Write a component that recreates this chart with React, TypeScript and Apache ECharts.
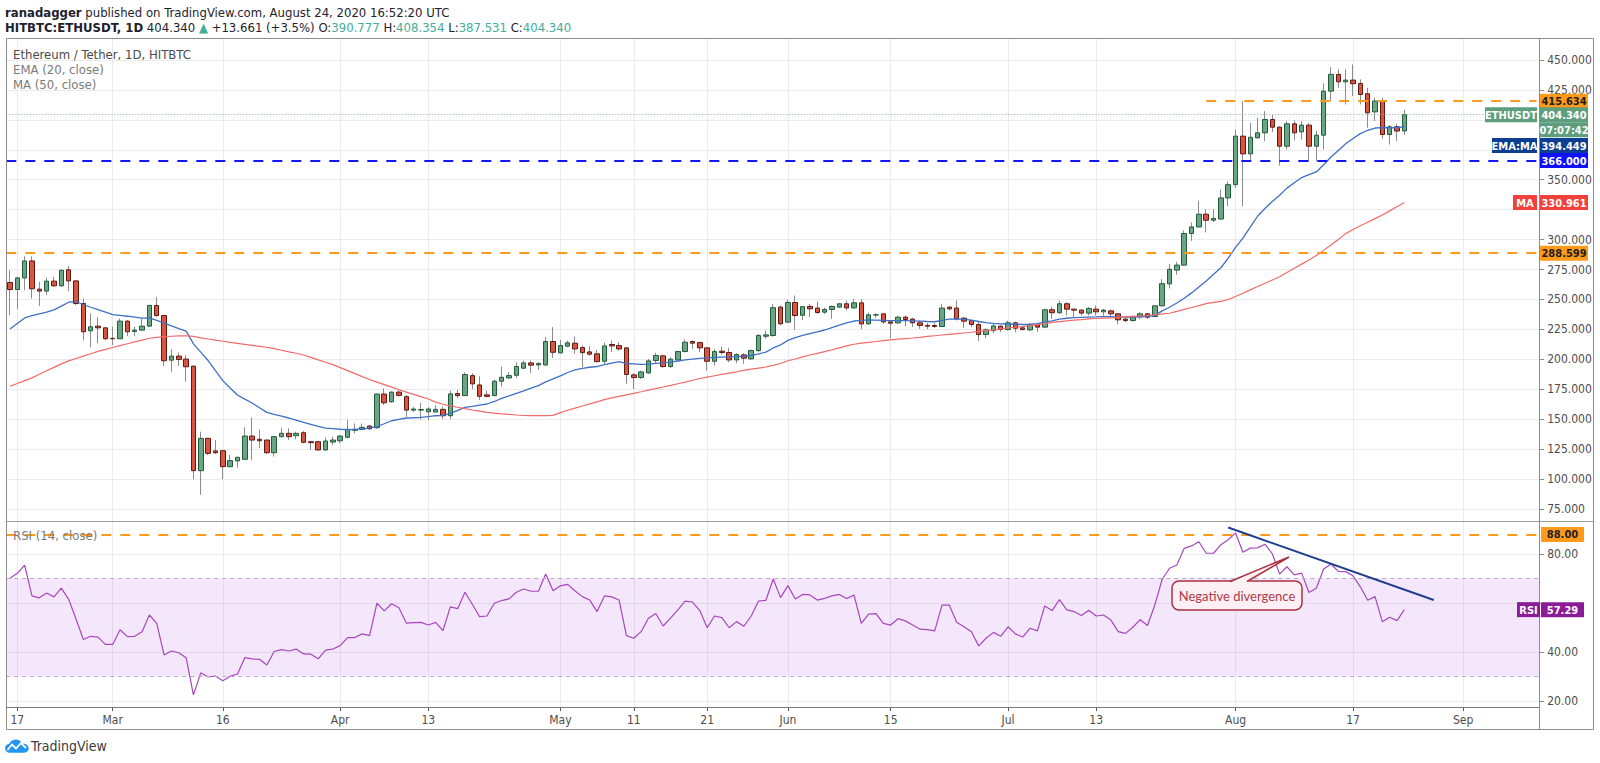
import React, { useEffect, useRef } from 'react';
import * as echarts from 'echarts';

// ---------------- data ----------------
const START_DATE = '2020-02-16';
const AXIS_DAYS = 209; // categories on the time axis (Feb 16 .. Sep 11)

const OPEN = [
  264.2, 258.3, 268.0, 282.2, 258.6, 257.0, 265.3, 261.4, 274.8, 265.5,
  246.6, 223.8, 227.7, 226.3, 217.5, 217.2, 231.9, 223.3, 224.4, 227.7,
  245.0, 236.6, 199.3, 202.7, 200.2, 194.3, 107.0, 134.0, 123.5, 123.7,
  110.4, 115.2, 116.5, 135.9, 133.2, 132.6, 122.0, 135.4, 138.2, 136.2,
  138.7, 131.2, 131.2, 124.3, 130.9, 132.0, 134.9, 140.7, 141.5, 144.3,
  142.9, 171.0, 164.6, 172.6, 168.8, 157.6, 157.6, 156.2, 156.0, 158.2,
  152.9, 171.4, 169.7, 186.4, 178.6, 170.3, 169.7, 181.7, 184.5, 186.7,
  192.6, 197.0, 195.3, 195.3, 214.9, 205.4, 211.0, 213.5, 209.8, 206.2,
  204.6, 198.4, 212.4, 211.5, 209.6, 187.0, 184.8, 188.7, 199.0, 202.9,
  194.0, 199.5, 206.5, 214.9, 214.0, 209.6, 198.4, 206.8, 205.7, 199.5,
  203.7, 200.4, 207.3, 219.3, 219.9, 243.6, 231.1, 247.5, 236.8, 244.2,
  242.8, 239.4, 241.6, 243.6, 246.4, 243.0, 247.2, 229.6, 237.0, 238.0,
  231.3, 230.5, 235.2, 233.6, 230.5, 228.3, 228.3, 227.4, 243.6, 242.8,
  234.4, 232.4, 229.1, 220.7, 224.0, 227.7, 224.9, 230.5, 226.3, 224.6,
  228.8, 226.9, 241.4, 238.9, 246.4, 241.9, 241.1, 238.6, 241.9, 239.7,
  240.5, 238.0, 233.6, 232.4, 235.5, 238.0, 235.8, 244.7, 263.0, 274.5,
  278.7, 305.1, 310.6, 321.2, 316.2, 317.2, 334.8, 345.9, 386.4, 371.6,
  385.0, 389.2, 400.3, 393.9, 378.0, 396.7, 390.0, 395.6, 378.0, 387.2,
  424.0, 438.0, 431.8, 433.2, 430.4, 421.8, 406.7, 415.7, 387.8, 394.2,
  390.777,
];
const CLOSE = [
  258.3, 268.0, 282.2, 258.9, 257.0, 265.3, 261.4, 274.4, 265.5, 246.6,
  223.0, 227.2, 226.3, 217.2, 217.2, 231.9, 223.0, 224.4, 227.7, 245.0,
  236.6, 198.8, 202.7, 199.9, 193.8, 107.0, 134.0, 121.5, 122.0, 110.4,
  115.4, 118.2, 135.9, 132.6, 132.0, 122.0, 135.4, 138.2, 135.4, 138.2,
  130.7, 130.4, 124.3, 131.8, 132.6, 135.9, 141.5, 141.5, 143.2, 142.0,
  171.0, 163.7, 172.6, 169.9, 157.6, 158.5, 158.1, 158.5, 158.2, 152.9,
  171.1, 169.7, 187.3, 179.5, 169.1, 169.1, 181.7, 185.0, 186.4, 194.0,
  197.0, 195.1, 196.5, 214.9, 205.9, 211.5, 213.8, 208.7, 205.6, 204.3,
  198.1, 211.2, 211.2, 208.7, 187.3, 184.8, 189.5, 198.7, 203.2, 194.0,
  200.1, 206.5, 214.3, 213.5, 209.6, 198.4, 206.5, 205.7, 199.5, 204.0,
  201.0, 207.3, 219.9, 220.4, 243.1, 229.7, 247.5, 236.6, 244.0, 242.2,
  239.1, 241.6, 244.2, 246.4, 243.0, 247.2, 229.6, 237.2, 237.2, 231.3,
  230.2, 235.2, 233.3, 230.5, 228.3, 227.7, 227.4, 242.8, 242.2, 233.8,
  231.9, 229.1, 220.7, 224.6, 227.9, 224.9, 230.5, 226.0, 224.9, 228.8,
  226.9, 241.4, 238.9, 246.4, 241.9, 241.1, 238.6, 242.5, 239.7, 241.1,
  238.0, 233.0, 232.4, 235.8, 238.0, 235.2, 244.7, 263.2, 275.2, 278.7,
  305.1, 310.6, 321.2, 316.2, 317.7, 334.8, 345.9, 386.4, 371.6, 385.5,
  389.2, 400.3, 393.9, 378.0, 396.7, 389.2, 395.6, 378.0, 387.2, 424.0,
  438.0, 431.8, 433.2, 430.2, 421.2, 405.9, 415.7, 387.8, 394.2, 390.68,
  404.34,
];
const LOW = [
  236.9, 241.9, 257.8, 250.8, 244.4, 253.9, 260.5, 260.5, 256.9, 245.2,
  216.0, 209.9, 213.3, 216.0, 211.9, 217.0, 219.4, 219.4, 224.0, 227.2,
  235.5, 194.4, 189.6, 194.6, 181.3, 99.8, 86.8, 120.0, 120.9, 99.8,
  109.8, 109.6, 116.0, 116.0, 125.7, 120.9, 118.7, 134.9, 132.6, 133.2,
  129.8, 124.3, 123.7, 123.7, 128.4, 129.8, 134.0, 138.2, 140.9, 140.9,
  142.0, 161.8, 163.7, 168.8, 152.0, 156.3, 149.8, 149.0, 155.9, 150.2,
  150.2, 167.8, 169.7, 175.0, 166.1, 168.3, 169.1, 177.2, 183.6, 184.5,
  192.0, 188.4, 191.2, 194.8, 201.2, 205.0, 210.1, 204.6, 193.4, 203.2,
  197.3, 195.6, 206.0, 207.3, 179.5, 175.3, 183.6, 187.8, 196.2, 192.8,
  192.8, 199.0, 205.9, 208.7, 205.9, 190.6, 194.8, 204.0, 197.6, 196.8,
  196.2, 199.5, 206.0, 217.1, 219.0, 228.3, 230.2, 224.6, 232.8, 235.2,
  238.0, 238.0, 233.8, 243.0, 240.8, 242.2, 225.2, 229.1, 234.7, 229.6,
  217.6, 229.6, 227.4, 226.9, 225.5, 225.2, 226.3, 226.9, 240.8, 232.4,
  226.3, 226.9, 215.2, 217.6, 221.8, 222.7, 224.1, 222.7, 224.1, 223.5,
  222.7, 226.3, 233.8, 238.0, 236.6, 234.7, 236.6, 236.6, 236.6, 236.3,
  235.8, 229.1, 231.0, 231.6, 233.8, 233.8, 235.2, 244.2, 259.2, 270.7,
  278.0, 299.0, 310.1, 306.0, 314.7, 316.7, 327.8, 343.2, 327.8, 365.5,
  384.4, 382.2, 389.7, 361.8, 375.2, 382.8, 383.6, 364.9, 365.5, 375.2,
  415.7, 426.8, 412.9, 419.9, 412.9, 393.4, 398.9, 384.4, 379.4, 382.2,
  387.531,
];
const HIGH = [
  274.4, 268.8, 286.1, 286.1, 264.7, 268.3, 268.9, 275.0, 277.8, 266.0,
  250.8, 238.3, 235.0, 226.8, 227.2, 234.1, 232.7, 227.2, 234.1, 245.5,
  252.2, 237.0, 208.5, 205.7, 203.5, 195.0, 139.6, 134.5, 132.6, 123.9,
  120.1, 118.5, 143.2, 151.5, 141.5, 132.9, 135.8, 142.9, 142.4, 139.6,
  140.1, 132.0, 131.5, 134.6, 135.4, 136.8, 149.3, 146.5, 146.5, 145.1,
  171.5, 175.7, 173.2, 174.3, 170.2, 160.4, 163.7, 160.0, 161.8, 160.5,
  173.9, 174.4, 189.2, 188.4, 185.9, 173.9, 183.1, 194.0, 189.2, 197.6,
  199.0, 199.0, 197.6, 218.5, 226.9, 216.3, 215.7, 219.1, 211.5, 211.0,
  207.9, 214.0, 215.7, 214.3, 209.9, 188.4, 190.6, 200.4, 205.4, 204.0,
  201.8, 207.3, 216.6, 215.7, 214.9, 209.9, 208.7, 210.7, 209.6, 205.1,
  205.1, 208.2, 221.3, 224.1, 246.4, 245.0, 249.7, 253.3, 244.5, 246.4,
  248.3, 243.0, 245.0, 246.9, 249.2, 250.3, 250.3, 239.1, 238.6, 238.3,
  231.9, 236.3, 236.6, 234.7, 232.4, 230.5, 230.2, 246.4, 244.1, 249.2,
  235.2, 233.0, 231.0, 226.0, 229.6, 228.5, 232.4, 231.6, 227.4, 230.2,
  229.6, 242.2, 244.1, 249.2, 247.8, 242.2, 241.9, 243.6, 245.0, 242.2,
  241.4, 238.6, 234.7, 236.6, 239.4, 238.6, 244.9, 267.0, 279.7, 281.5,
  307.6, 314.3, 332.4, 325.4, 325.4, 341.8, 348.7, 391.9, 415.7, 397.5,
  401.7, 407.3, 404.0, 394.7, 398.9, 399.5, 398.9, 397.5, 391.1, 430.5,
  444.1, 442.2, 442.2, 446.3, 433.8, 426.8, 418.5, 418.5, 395.6, 396.7,
  408.354,
];
const EMA20 = [
  225.4, 230.0, 234.6, 236.5, 238.0, 239.5, 241.3, 244.5, 247.7, 248.3,
  245.8, 243.5, 241.6, 239.5, 237.4, 236.7, 236.0, 235.2, 234.4, 234.6,
  232.5, 230.2, 228.0, 225.7, 223.5, 212.9, 206.0, 199.0, 190.5, 182.2,
  176.0, 170.2, 166.8, 163.5, 159.6, 155.7, 154.0, 152.5, 151.0, 149.2,
  147.3, 145.7, 144.1, 142.6, 142.1, 141.6, 141.2, 141.5, 141.8, 142.7,
  143.7, 146.2, 148.7, 149.9, 151.0, 151.2, 151.5, 152.2, 152.9, 153.2,
  154.9, 157.3, 159.9, 160.8, 161.8, 162.7, 164.8, 167.4, 169.4, 171.6,
  173.6, 176.0, 178.1, 181.2, 183.6, 186.2, 189.0, 191.1, 192.5, 193.4,
  194.0, 195.5, 196.8, 198.0, 196.5, 196.2, 195.8, 196.0, 196.7, 197.1,
  197.7, 198.6, 199.6, 200.2, 200.8, 201.2, 201.6, 201.9, 202.1, 202.3,
  202.6, 203.2, 204.5, 206.0, 209.5, 212.0, 215.8, 218.2, 220.0, 221.5,
  223.0, 224.5, 226.5, 228.5, 230.5, 232.0, 232.6, 233.0, 232.8, 232.6,
  232.4, 232.4, 232.4, 232.2, 231.9, 231.6, 231.4, 232.5, 233.6, 233.7,
  233.6, 232.8, 231.6, 230.7, 230.1, 229.6, 229.5, 229.3, 229.1, 229.3,
  229.8, 231.2, 232.2, 233.5, 234.3, 234.8, 235.0, 235.2, 235.4, 235.7,
  235.6, 235.3, 235.2, 235.3, 235.5, 235.7, 236.6, 240.5, 243.5, 247.0,
  251.0, 255.5, 260.5, 265.5, 271.0, 276.5, 284.5, 293.5, 301.3, 310.5,
  319.5, 326.0, 331.8, 337.0, 343.0, 347.5, 351.8, 354.3, 356.5, 362.5,
  369.0, 374.5, 380.0, 384.5, 388.5, 391.3, 393.2, 393.6, 393.4, 393.4,
  394.449,
];
const MA50 = [
  177.5, 179.8, 182.2, 184.5, 187.5, 190.4, 193.3, 196.2, 198.7, 200.7,
  202.7, 204.7, 206.7, 208.3, 209.9, 211.5, 213.0, 214.6, 216.1, 217.6,
  218.3, 219.0, 219.3, 219.6, 219.7, 219.2, 217.9, 217.0, 216.0, 215.1,
  214.1, 213.3, 212.5, 211.7, 210.9, 210.1, 208.9, 207.6, 206.3, 205.1,
  203.6, 201.6, 199.6, 197.6, 195.6, 193.1, 190.6, 188.1, 185.6, 183.2,
  181.0, 178.9, 176.8, 174.6, 172.6, 170.7, 168.8, 166.9, 164.3, 162.5,
  161.2, 160.0, 158.8, 157.7, 156.7, 155.7, 155.1, 154.5, 154.0, 153.5,
  153.1, 153.0, 153.0, 153.0, 153.2, 155.5, 157.5, 159.3, 161.0, 162.8,
  164.5, 166.4, 167.8, 169.0, 170.3, 171.6, 172.9, 174.3, 175.6, 176.9,
  178.2, 179.6, 181.0, 182.5, 184.0, 185.2, 186.3, 187.4, 188.5, 189.6,
  190.8, 191.8, 192.7, 193.6, 195.0, 196.5, 198.8, 200.3, 202.0, 203.6,
  205.0, 206.5, 208.0, 209.6, 211.2, 212.6, 213.5, 214.2, 214.9, 215.7,
  216.3, 216.8, 217.3, 217.8, 218.4, 219.1, 219.7, 220.3, 220.9, 221.4,
  222.0, 222.6, 223.3, 224.0, 224.6, 225.5, 226.2, 226.8, 227.4, 228.2,
  229.0, 229.8, 230.8, 231.5, 232.1, 232.7, 233.2, 233.8, 234.1, 234.4,
  234.7, 235.0, 235.4, 235.8, 236.2, 236.6, 237.2, 237.9, 238.5, 240.0,
  241.7, 243.3, 244.8, 246.5, 247.5, 248.4, 250.0, 252.5, 255.2, 258.0,
  260.8, 263.5, 266.2, 269.0, 272.5, 276.0, 279.5, 283.0, 286.8, 291.0,
  295.5, 300.0, 305.0, 308.5, 311.5, 314.5, 317.5, 320.5, 324.0, 327.5,
  330.961,
];
const RSI14 = [
  70.1, 72.1, 75.5, 62.9, 62.1, 64.1, 62.5, 66.1, 61.5, 53.5,
  45.1, 46.4, 46.1, 43.1, 43.1, 49.1, 46.3, 46.4, 48.3, 55.1,
  51.7, 38.8, 40.4, 39.7, 37.7, 22.5, 31.5, 29.8, 30.2, 28.3,
  30.1, 31.0, 37.7, 37.2, 37.0, 34.7, 40.2, 41.0, 40.4, 41.2,
  39.2, 39.1, 37.2, 40.8, 41.2, 42.6, 45.9, 45.9, 47.4, 46.7,
  59.9, 56.8, 59.7, 58.1, 51.8, 52.0, 52.1, 51.0, 52.1, 48.7,
  58.4, 57.7, 64.4, 59.5, 54.4, 54.7, 59.9, 61.0, 61.7, 64.4,
  65.7, 64.8, 64.8, 71.8, 65.0, 67.0, 67.6, 64.9, 62.6, 61.2,
  56.5, 62.9, 62.5, 61.2, 46.7, 45.6, 48.3, 53.8, 55.7, 50.6,
  53.8, 57.2, 60.8, 60.4, 56.9, 49.9, 54.7, 54.0, 49.9, 52.4,
  50.5, 54.7, 60.8, 61.1, 69.8, 62.2, 67.1, 61.6, 63.5, 63.3,
  61.2, 61.9, 62.9, 63.5, 61.8, 63.3, 51.7, 55.5, 55.7, 51.7,
  51.0, 53.6, 52.7, 51.0, 49.3, 49.1, 48.6, 59.1, 59.1, 52.1,
  50.3, 48.3, 42.5, 45.6, 48.0, 46.4, 50.3, 47.4, 46.1, 49.7,
  48.6, 58.8, 56.9, 61.4, 57.2, 56.5, 54.9, 57.0, 54.7, 55.1,
  53.1, 48.3, 47.6, 50.1, 53.2, 50.8, 59.2, 69.7, 74.2, 75.5,
  82.3, 83.3, 85.0, 80.3, 80.3, 83.8, 85.8, 88.6, 80.7, 82.4,
  82.5, 84.0, 80.1, 71.8, 74.8, 71.5, 72.2, 64.3, 66.0, 73.9,
  75.9, 72.9, 72.8, 71.1, 66.6, 61.1, 62.6, 52.3, 54.2, 52.8,
  57.29,
];

const TIME_TICK_DATES = [
  '2020-02-17', '2020-03-01', '2020-03-16', '2020-04-01', '2020-04-13',
  '2020-05-01', '2020-05-11', '2020-05-21', '2020-06-01', '2020-06-15',
  '2020-07-01', '2020-07-13', '2020-08-01', '2020-08-17', '2020-09-01',
];
const TIME_TICK_LABELS = ['17', 'Mar', '16', 'Apr', '13', 'May', '11', '21', 'Jun', '15', 'Jul', '13', 'Aug', '17', 'Sep'];

const PRICE_MIN = 75;
const PRICE_MAX = 450;
const PRICE_STEP = 25;
const PRICE_LABELS_UNDER_TAGS = [400, 375, 325];
const RSI_MIN = 20;
const RSI_MAX = 100;
const RSI_STEP = 20;
const RSI_LABELS_UNDER_TAGS = [60, 100];

const RESISTANCE_LEVEL = 415.634;
const RESISTANCE_START = '2020-07-28';
const SUPPORT_LEVEL = 366.0;
const LOWER_LEVEL = 288.599;
const RSI_HIGH_LEVEL = 88;
const RSI_BAND = [30, 70];
const TREND_START = ['2020-07-31', 90.8];
const TREND_END = ['2020-08-28', 61.2];

const LAST_CLOSE = 404.34;
const LAST_EMA = 394.449;
const LAST_MA = 330.961;
const LAST_RSI = 57.29;

// ---------------- presentation ----------------
const NARROW = "'Liberation Sans Narrow', 'Arial Narrow', 'DejaVu Sans Condensed', 'Roboto Condensed', Roboto, sans-serif";
const STEP = 7.339;
const X0 = 9.96;
const GRID_LEFT = X0 - STEP / 2;
const GRID_WIDTH = STEP * AXIS_DAYS;
const GRID_LINE = '#ebebeb';
const ORANGE = '#ff9a1a';

const LOGO_PATH =
  'M5 14 C2.2 14 0 11.8 0 9.2 C0 6.8 1.8 4.8 4.2 4.5 C5.2 1.9 7.7 0 10.6 0 C13.6 0 16.1 2 16.9 4.8 C17.3 4.7 17.7 4.6 18.2 4.6 C21 4.6 23.2 6.8 23.2 9.6 C23.2 12 21.3 14 18.9 14 Z';

function buildDates(start: string, n: number): string[] {
  const base = Date.parse(start + 'T00:00:00Z');
  const out: string[] = [];
  for (let i = 0; i < n; i++) out.push(new Date(base + i * 86400000).toISOString().slice(0, 10));
  return out;
}

function buildOption() {
  const dates = buildDates(START_DATE, AXIS_DAYS);
  const tickSet = new Set(TIME_TICK_DATES);
  const tickLabel: Record<string, string> = {};
  TIME_TICK_DATES.forEach((d, i) => (tickLabel[d] = TIME_TICK_LABELS[i]));
  const isTick = (_i: number, v: string) => tickSet.has(v);

  const wickData = OPEN.map((o, i) => [o, CLOSE[i], LOW[i], HIGH[i]]);
  const bodyData = OPEN.map((o, i) => [o, CLOSE[i], Math.min(o, CLOSE[i]), Math.max(o, CLOSE[i])]);
  const dash = { type: [10, 9] as any, width: 2 };

  return {
    animation: false,
    backgroundColor: '#ffffff',
    grid: [
      { left: X0, top: 38, width: STEP * (AXIS_DAYS - 1), height: 669 },
      { left: GRID_LEFT, top: 60, width: GRID_WIDTH, height: 449 },
      { left: GRID_LEFT, top: 505, width: GRID_WIDTH, height: 196 },
    ],
    xAxis: [
      {
        gridIndex: 0,
        type: 'category',
        data: dates,
        boundaryGap: false,
        axisLine: { show: false },
        axisTick: { show: true, interval: isTick, length: 4, lineStyle: { color: '#555' } },
        axisLabel: {
          interval: isTick,
          formatter: (v: string) => tickLabel[v] || '',
          color: '#4d4d4d',
          fontSize: 12,
          fontFamily: NARROW,
          margin: 7,
        },
        splitLine: { show: true, interval: isTick, lineStyle: { color: GRID_LINE, width: 1 } },
      },
      { gridIndex: 1, type: 'category', data: dates, boundaryGap: true, show: false },
      { gridIndex: 2, type: 'category', data: dates, boundaryGap: true, show: false },
    ],
    yAxis: [
      { gridIndex: 0, type: 'value', show: false },
      {
        gridIndex: 1,
        type: 'value',
        position: 'right',
        min: PRICE_MIN,
        max: PRICE_MAX,
        interval: PRICE_STEP,
        axisLine: { show: false },
        axisTick: { show: true, length: 4, lineStyle: { color: '#8a8a8a' } },
        axisLabel: {
          formatter: (v: number) => (PRICE_LABELS_UNDER_TAGS.indexOf(v) >= 0 ? '' : v.toFixed(3)),
          color: '#4d4d4d',
          fontSize: 12,
          fontFamily: NARROW,
          margin: 7,
        },
        splitLine: { show: true, lineStyle: { color: GRID_LINE, width: 1 } },
      },
      {
        gridIndex: 2,
        type: 'value',
        position: 'right',
        min: RSI_MIN,
        max: RSI_MAX,
        interval: RSI_STEP,
        axisLine: { show: false },
        axisTick: { show: true, length: 4, lineStyle: { color: '#8a8a8a' } },
        axisLabel: {
          formatter: (v: number) => (RSI_LABELS_UNDER_TAGS.indexOf(v) >= 0 ? '' : v.toFixed(2)),
          showMaxLabel: false,
          color: '#4d4d4d',
          fontSize: 12,
          fontFamily: NARROW,
          margin: 7,
        },
        splitLine: { show: true, showMaxLine: false, lineStyle: { color: GRID_LINE, width: 1 } },
      },
    ],
    series: [
      {
        type: 'candlestick',
        name: 'wick',
        xAxisIndex: 1,
        yAxisIndex: 1,
        data: wickData,
        barWidth: 1,
        silent: true,
        z: 2,
        itemStyle: { color: '#8c8c8c', color0: '#8c8c8c', borderColor: '#8c8c8c', borderColor0: '#8c8c8c', borderWidth: 1 },
      },
      {
        type: 'candlestick',
        name: 'ETHUSDT',
        xAxisIndex: 1,
        yAxisIndex: 1,
        data: bodyData,
        barWidth: 5,
        silent: true,
        z: 3,
        itemStyle: {
          color: '#6aa584',
          color0: '#d9553f',
          borderColor: '#225c3b',
          borderColor0: '#5e1a12',
          borderColorDoji: '#225c3b',
          borderWidth: 1,
        },
        markLine: {
          silent: true,
          symbol: ['none', 'none'],
          label: { show: false },
          data: [
            { yAxis: LOWER_LEVEL, lineStyle: { color: ORANGE, ...dash } },
            { yAxis: SUPPORT_LEVEL, lineStyle: { color: '#1414ff', ...dash } },
            { yAxis: LAST_CLOSE, lineStyle: { color: '#7fae95', width: 1, type: [1, 2] } },
            [
              { coord: [RESISTANCE_START, RESISTANCE_LEVEL], lineStyle: { color: ORANGE, ...dash } },
              { coord: [dates[AXIS_DAYS - 1], RESISTANCE_LEVEL] },
            ],
          ],
        },
      },
      {
        type: 'line',
        name: 'EMA',
        xAxisIndex: 1,
        yAxisIndex: 1,
        data: EMA20,
        symbol: 'none',
        silent: true,
        z: 4,
        lineStyle: { color: '#3e70c6', width: 1.3 },
      },
      {
        type: 'line',
        name: 'MA',
        xAxisIndex: 1,
        yAxisIndex: 1,
        data: MA50,
        symbol: 'none',
        silent: true,
        z: 4,
        lineStyle: { color: '#f26a6a', width: 1.2 },
      },
      {
        type: 'line',
        name: 'RSI',
        xAxisIndex: 2,
        yAxisIndex: 2,
        data: RSI14,
        symbol: 'none',
        silent: true,
        z: 4,
        lineStyle: { color: '#a847bd', width: 1.2 },
        markArea: {
          silent: true,
          itemStyle: { color: 'rgba(186, 104, 230, 0.16)' },
          data: [[{ yAxis: RSI_BAND[0] }, { yAxis: RSI_BAND[1] }]],
        },
        markLine: {
          silent: true,
          symbol: ['none', 'none'],
          label: { show: false },
          data: [
            { yAxis: RSI_BAND[1], lineStyle: { color: '#bba9c4', width: 1, type: [4, 4] } },
            { yAxis: RSI_BAND[0], lineStyle: { color: '#bba9c4', width: 1, type: [4, 4] } },
            { yAxis: RSI_HIGH_LEVEL, lineStyle: { color: ORANGE, ...dash } },
            [
              { coord: TREND_START, lineStyle: { color: '#1d3f8e', width: 2, type: 'solid' } },
              { coord: TREND_END },
            ],
          ],
        },
      },
    ],
  };
}

function buildGraphics(chart: any) {
  const py = (v: number) => chart.convertToPixel({ yAxisIndex: 1 }, v) as number;
  const ry = (v: number) => chart.convertToPixel({ yAxisIndex: 2 }, v) as number;
  const g: any[] = [];
  const seg = (x1: number, y1: number, x2: number, y2: number, color: string) => ({
    type: 'line',
    silent: true,
    z: 95,
    shape: { x1, y1, x2, y2 },
    style: { stroke: color, lineWidth: 1 },
  });
  const text = (x: number, y: number, t: string, o: any = {}) => ({
    type: 'text',
    silent: true,
    z: o.z || 100,
    x,
    y,
    style: {
      text: t,
      fill: o.color || '#4a4a4a',
      fontSize: o.size || 13,
      fontFamily: o.font || NARROW,
      fontWeight: o.weight || 'normal',
      align: o.align || 'left',
      verticalAlign: 'middle',
      rich: o.rich,
    },
  });
  const tag = (x: number, yc: number, w: number, t: string, bg: string, fg: string) => {
    g.push({ type: 'rect', silent: true, z: 110, shape: { x, y: yc - 7.5, width: w, height: 15 }, style: { fill: bg } });
    g.push(text(x + w / 2, yc + 0.5, t, { color: fg, size: 11, weight: 'bold', align: 'center', z: 111 }));
  };

  // frame
  g.push({ type: 'rect', silent: true, z: 95, shape: { x: 6.5, y: 38.5, width: 1587, height: 691 }, style: { fill: 'none', stroke: '#8c8c8c', lineWidth: 1 } });
  g.push(seg(6.5, 521.5, 1593.5, 521.5, '#9c9c9c'));
  g.push(seg(1539.5, 38.5, 1539.5, 729.5, '#8c8c8c'));
  g.push(seg(6.5, 707.5, 1539.5, 707.5, '#7a7a7a'));

  // header
  g.push(
    text(5, 12, '{b|ranadagger} {n|published on TradingView.com, August 24, 2020 16:52:20 UTC}', {
      rich: {
        b: { fontWeight: 'bold', fill: '#1e222d', fontSize: 13, fontFamily: NARROW },
        n: { fill: '#1e222d', fontSize: 13, fontFamily: NARROW },
      },
    })
  );
  g.push(
    text(
      5,
      27,
      '{b|HITBTC:ETHUSDT, 1D} {n|404.340} {g|▲} {n|+13.661 (+3.5%) O:}{g|390.777} {n|H:}{g|408.354} {n|L:}{g|387.531} {n|C:}{g|404.340}',
      {
        rich: {
          b: { fontWeight: 'bold', fill: '#1e222d', fontSize: 13, fontFamily: NARROW },
          n: { fill: '#1e222d', fontSize: 13, fontFamily: NARROW },
          g: { fill: '#3fae9c', fontSize: 13, fontFamily: NARROW },
        },
      }
    )
  );

  // pane legends
  g.push(text(13, 54, 'Ethereum / Tether, 1D, HITBTC', { color: '#4a4a4a', size: 13 }));
  g.push(text(13, 69, 'EMA (20, close)', { color: '#7a7a7a', size: 13 }));
  g.push(text(13, 84, 'MA (50, close)', { color: '#7a7a7a', size: 13 }));
  g.push(text(13, 535, 'RSI (14, close)', { color: '#7a7a7a', size: 13 }));

  // price scale tags
  const VX = 1540;
  const VW = 48;
  tag(VX, py(RESISTANCE_LEVEL), VW, RESISTANCE_LEVEL.toFixed(3), ORANGE, '#1e1e1e');
  const yClose = py(LAST_CLOSE);
  tag(1485, yClose, 52, 'ETHUSDT', '#5e9e7c', '#ffffff');
  tag(VX, yClose, VW, LAST_CLOSE.toFixed(3), '#5e9e7c', '#ffffff');
  tag(VX, yClose + 15, VW, '07:07:42', '#5e9e7c', '#ffffff');
  const ySupport = py(SUPPORT_LEVEL);
  tag(1492, ySupport - 15, 45, 'EMA:MA', '#0e3e91', '#ffffff');
  tag(VX, ySupport - 15, VW, LAST_EMA.toFixed(3), '#0e3e91', '#ffffff');
  tag(VX, ySupport, VW, SUPPORT_LEVEL.toFixed(3), '#1010ff', '#ffffff');
  const yMa = py(LAST_MA);
  tag(1513, yMa, 24, 'MA', '#f2403a', '#ffffff');
  tag(VX, yMa, VW, LAST_MA.toFixed(3), '#f2403a', '#ffffff');
  tag(VX, py(LOWER_LEVEL), VW, LOWER_LEVEL.toFixed(3), ORANGE, '#1e1e1e');

  // RSI tags
  tag(VX + 1, ry(RSI_HIGH_LEVEL), 43, RSI_HIGH_LEVEL.toFixed(2), ORANGE, '#1e1e1e');
  const yRsi = ry(LAST_RSI);
  tag(1517, yRsi, 23, 'RSI', '#8c1b99', '#ffffff');
  tag(VX + 1, yRsi, 43, LAST_RSI.toFixed(2), '#8c1b99', '#ffffff');

  // callout "Negative divergence"
  const pink = '#fcf0f5';
  const maroon = '#a8323f';
  g.push({ type: 'rect', silent: true, z: 120, shape: { x: 1172, y: 581, width: 130, height: 29, r: 7 }, style: { fill: pink, stroke: maroon, lineWidth: 1.5 } });
  g.push({ type: 'polygon', silent: true, z: 121, shape: { points: [[1230, 582.5], [1289, 557], [1247, 582.5]] }, style: { fill: pink } });
  g.push({ type: 'polyline', silent: true, z: 122, shape: { points: [[1230, 581.5], [1289, 557], [1247, 581.5]] }, style: { fill: 'none', stroke: maroon, lineWidth: 1.5 } });
  g.push(text(1237, 596, 'Negative divergence', { color: '#b03a4a', size: 13, font: "Lato, 'Open Sans', sans-serif", align: 'center', z: 123 }));

  // TradingView logo
  g.push({ type: 'tvlogo', silent: true, z: 100, x: 5, y: 739.5, scaleX: 1.02, scaleY: 0.95, style: { fill: '#2196f3' } });
  g.push({ type: 'polyline', silent: true, z: 101, shape: { points: [[7.5, 750], [12, 744.5], [16, 748.5], [21, 743], [26, 748]] }, style: { fill: 'none', stroke: '#ffffff', lineWidth: 1.8 } });
  g.push(text(31, 746, 'TradingView', { color: '#3b3b3b', size: 14 }));

  return g;
}

export default function App() {
  const ref = useRef<HTMLDivElement>(null);
  useEffect(() => {
    if (!ref.current) return;
    try {
      echarts.graphic.registerShape('tvlogo', echarts.graphic.extendPath(LOGO_PATH, {}));
    } catch (e) {
      /* already registered */
    }
    const chart = echarts.init(ref.current, null, { renderer: 'svg', width: 1600, height: 763 });
    chart.setOption(buildOption() as any);
    chart.setOption({ graphic: buildGraphics(chart) } as any);
    return () => chart.dispose();
  }, []);
  return (
    <div
      ref={ref}
      style={{ position: 'absolute', left: 0, top: 0, width: 1600, height: 763, background: '#ffffff' }}
    />
  );
}
